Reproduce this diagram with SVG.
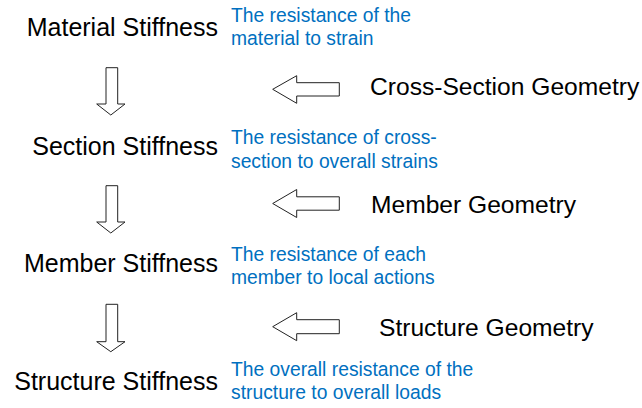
<svg xmlns="http://www.w3.org/2000/svg" width="642" height="408" viewBox="0 0 642 408">
<style>
.main{font-family:"Liberation Sans",Arial,sans-serif;font-size:25px;fill:#000;text-anchor:end}
.geo{font-family:"Liberation Sans",Arial,sans-serif;font-size:24.6px;fill:#000}
.desc{font-family:"Liberation Sans",Arial,sans-serif;font-size:19.3px;fill:#0070C0}
.arr{fill:#fff;stroke:#222;stroke-width:1;stroke-linejoin:miter}
</style>
<rect width="642" height="408" fill="#fff"/>
<g id="material">
<text class="main" x="218" y="36">Material Stiffness</text>
<text class="desc" x="231" y="22">The resistance of the</text>
<text class="desc" x="231" y="45">material to strain</text>
</g>
<g id="section">
<text class="main" x="218" y="155">Section Stiffness</text>
<text class="desc" x="231" y="144">The resistance of cross-</text>
<text class="desc" x="231" y="167.5">section to overall strains</text>
</g>
<g id="member">
<text class="main" x="218" y="272">Member Stiffness</text>
<text class="desc" x="231" y="260.5">The resistance of each</text>
<text class="desc" x="231" y="283.5">member to local actions</text>
</g>
<g id="structure">
<text class="main" x="218" y="390">Structure Stiffness</text>
<text class="desc" x="231" y="376">The overall resistance of the</text>
<text class="desc" x="231" y="399">structure to overall loads</text>
</g>
<g id="cross-section-geometry">
<text class="geo" x="370" y="95">Cross-Section Geometry</text>
</g>
<g id="member-geometry">
<text class="geo" x="371" y="213">Member Geometry</text>
</g>
<g id="structure-geometry">
<text class="geo" x="379" y="335.7">Structure Geometry</text>
</g>
<g id="connectors">
<path class="arr" d="M106,67.7 H117.7 V104 H125 L110.8,115 L96.7,104 H106 Z"/>
<path class="arr" d="M106,185.7 H117.7 V222 H125 L110.8,233 L96.7,222 H106 Z"/>
<path class="arr" d="M106,304.3 H117.7 V341.7 H125 L110.8,351.7 L96.7,341.7 H106 Z"/>
<path class="arr" d="M272.7,89.3 L296.7,75.7 V82.7 H339.3 V96 H296.7 V103.3 Z"/>
<path class="arr" d="M272.7,203.5 L296.7,189.5 V196.8 H339.3 V210.2 H296.7 V217.5 Z"/>
<path class="arr" d="M272.7,326.7 L296.7,312.7 V319.7 H339.3 V333.7 H296.7 V340.7 Z"/>
</g>
</svg>
